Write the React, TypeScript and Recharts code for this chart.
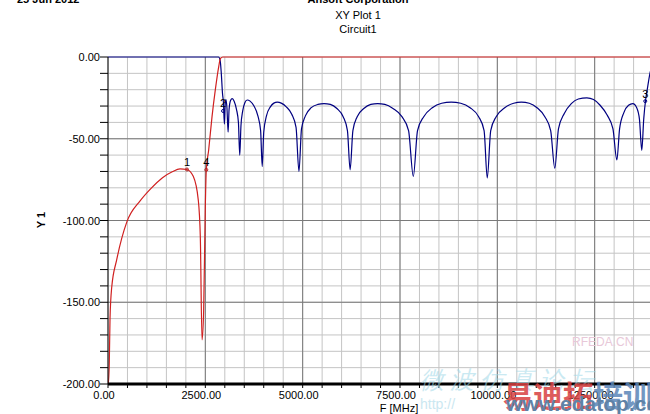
import { LineChart, Line, XAxis, YAxis, CartesianGrid, ReferenceLine, ReferenceDot } from 'recharts';

// S21 (red) trace, F in MHz / dB
const S21_F = [0, 8, 33, 52, 95, 224, 482, 825, 1100, 1400, 1650, 1850, 2028, 2190, 2319, 2371, 2415, 2457, 2500, 2525, 2585, 2672, 2757, 2843, 2886, 2950, 15000];
const S21_DB = [-200, -200, -187, -160, -141, -124, -101, -88, -80.5, -73.8, -70.2, -68.4, -68.8, -73, -87.5, -110, -173, -155, -91, -69, -57, -36.5, -20, -6, -1, 0, 0];

// S11 (blue) trace
const S11_F = [
  0, 2840, 2880, 2910, 2940, 2965, 2990, 3010, 3030, 3055, 3085, 3110, 3150, 3190, 3240, 3300, 3350, 3384, 3415, 3460,
  3515, 3575, 3650, 3750, 3850, 3920, 3961, 4000, 4070, 4170, 4260, 4348, 4450, 4580, 4720, 4830, 4905, 4970, 5070, 5220,
  5390, 5549, 5710, 5880, 6040, 6150, 6219, 6290, 6400, 6570, 6750, 6925, 7110, 7320, 7550, 7720, 7842, 7950, 8110, 8330,
  8570, 8814, 9060, 9300, 9520, 9660, 9741, 9830, 9970, 10190, 10420, 10617, 10820, 11020, 11220, 11370, 11476, 11570, 11720, 11900,
  12080, 12300, 12470, 12640, 12820, 12970, 13070, 13140, 13250, 13370, 13480, 13580, 13650, 13710, 13760, 13810, 13850, 13920, 14000,
];
const S11_DB = [
  0, 0, -2, -10, -22, -28, -41, -29, -26, -31, -46, -32, -26.5, -25.5, -27, -32, -40, -60, -42, -33,
  -28, -26.3, -27, -30, -36, -45, -67, -46, -36, -30.5, -28.2, -27.6, -28.2, -30.5, -35, -43, -70, -44, -36, -31,
  -29, -28.5, -29, -31.5, -36.5, -45, -69, -45, -36.5, -31.5, -29, -28.5, -29, -31.5, -36.5, -45, -73, -45, -36.5, -31,
  -28.3, -27.6, -28.3, -31, -36.5, -45, -74, -45, -36.5, -31, -28.3, -27.6, -28.3, -31, -36.5, -45, -68, -44, -34.5, -28.5,
  -25.7, -25, -26, -29.5, -35.5, -44, -63, -44, -34, -29.5, -28.5, -31, -38, -57, -38, -26, -20, -10, -3,
];

const X_TICKS = [0, 500, 1000, 1500, 2000, 2500, 3000, 3500, 4000, 4500, 5000, 5500, 6000, 6500, 7000, 7500, 8000, 8500, 9000, 9500, 10000, 10500, 11000, 11500, 12000, 12500, 13000, 13500, 14000, 14500, 15000];
const X_MAJOR = [2500, 5000, 7500, 10000, 12500];
const Y_TICKS = [0, -10, -20, -30, -40, -50, -60, -70, -80, -90, -100, -110, -120, -130, -140, -150, -160, -170, -180, -190, -200];
const Y_MAJOR = [-50, -100, -150];

const MARKERS = [
  { id: '1', f: 2028, db: -68.8, color: '#b02020' },
  { id: '4', f: 2525, db: -69, color: '#b02020' },
  { id: '2', f: 2955, db: -33, color: '#000080' },
  { id: '3', f: 13800, db: -27, color: '#000080' },
];

const s21 = S21_F.map((f, i) => ({ f, db: S21_DB[i] }));
const s11 = S11_F.map((f, i) => ({ f, db: S11_DB[i] }));

const FONT = '"Liberation Sans", Arial, sans-serif';

const XTick = (props: any) => {
  const { x, y, payload } = props;
  if (payload.value % 2500 !== 0 || payload.value > 12500) return null;
  return (
    <text x={x - 4} y={y + 9} textAnchor="middle" fontSize={11} fontFamily={FONT} fill="#000">
      {payload.value.toFixed(2)}
    </text>
  );
};

const YTick = (props: any) => {
  const { x, y, payload } = props;
  if (payload.value % 50 !== 0) return null;
  return (
    <text x={x + 2} y={y + 4} textAnchor="end" fontSize={11} fontFamily={FONT} fill="#000">
      {payload.value.toFixed(2)}
    </text>
  );
};

const abs = (s: any) => ({ position: 'absolute', whiteSpace: 'nowrap', fontFamily: FONT, ...s });

export default function App() {
  return (
    <div style={{ position: 'absolute', left: 0, top: 0, width: 650, height: 414, overflow: 'hidden', background: '#fff' }}>
      <div style={abs({ left: 17, top: -7, fontSize: 11, fontWeight: 'bold' })}>25 Jun 2012</div>
      <div style={abs({ left: 358, top: -7, fontSize: 11, fontWeight: 'bold', transform: 'translateX(-50%)' })}>Ansoft Corporation</div>
      <div style={abs({ left: 358, top: 9, fontSize: 11, transform: 'translateX(-50%)' })}>XY Plot 1</div>
      <div style={abs({ left: 358, top: 23, fontSize: 11, transform: 'translateX(-50%)' })}>Circuit1</div>
      <div style={abs({ left: 41, top: 220, fontSize: 11, fontWeight: 'bold', transform: 'translate(-50%,-50%) rotate(-90deg)' })}>Y 1</div>
      <div style={abs({ left: 399, top: 402, fontSize: 11, transform: 'translateX(-50%)' })}>F [MHz]</div>

      <div style={{ position: 'absolute', left: 0, top: 0 }}>
        <LineChart width={700} height={414} margin={{ top: 57, right: 8, bottom: 6, left: 48 }}>
          <CartesianGrid stroke="#c4c4c4" strokeWidth={1} />
          {X_MAJOR.map((v) => (
            <ReferenceLine key={'x' + v} x={v} stroke="#7a7a7a" strokeWidth={1} />
          ))}
          {Y_MAJOR.map((v) => (
            <ReferenceLine key={'y' + v} y={v} stroke="#7a7a7a" strokeWidth={1} />
          ))}
          <XAxis
            type="number"
            dataKey="f"
            domain={[0, 15000]}
            ticks={X_TICKS}
            interval={0}
            height={24}
            tick={<XTick />}
            tickSize={4}
            tickLine={{ stroke: '#000' }}
            axisLine={{ stroke: '#000', strokeWidth: 3 }}
          />
          <YAxis
            type="number"
            domain={[-200, 0]}
            ticks={Y_TICKS}
            interval={0}
            width={60}
            tick={<YTick />}
            tickSize={8}
            tickLine={{ stroke: '#000' }}
            axisLine={{ stroke: '#000' }}
          />
          <Line data={s11} dataKey="db" type="monotone" stroke="#000080" strokeWidth={1.2} dot={false} activeDot={false} isAnimationActive={false} />
          <Line data={s21} dataKey="db" type="monotone" stroke="#d02020" strokeWidth={1.2} dot={false} activeDot={false} isAnimationActive={false} />
          {MARKERS.map((m) => (
            <ReferenceDot
              key={m.id}
              x={m.f}
              y={m.db}
              r={1.5}
              fill="none"
              stroke={m.color}
              label={{ value: m.id, position: 'top', fontSize: 11, fontFamily: FONT, fill: '#000', offset: 2 }}
            />
          ))}
        </LineChart>
      </div>

      {/* watermark overlay from the source image */}
      <div style={abs({ left: 572, top: 335, fontSize: 12, color: '#e8c8d8' })}>RFEDA.CN</div>
      <div style={abs({ left: 420, top: 364, fontSize: 24, color: '#9fd8e8', fontStyle: 'italic', opacity: 0.55, letterSpacing: 6 })}>微波仿真论坛</div>
      <div style={abs({ left: 420, top: 396, fontSize: 14, color: '#a8d8e8', opacity: 0.6 })}>http://</div>
      <div style={abs({ left: 503, top: 372, fontSize: 30, fontWeight: 'bold', fontFamily: '"Noto Sans CJK SC", sans-serif', opacity: 0.85 })}>
        <span style={{ color: '#d84040' }}>易迪拓</span>
        <span style={{ color: '#5b86b8' }}>培训</span>
      </div>
      <div style={abs({ left: 506, top: 392, fontSize: 21, fontWeight: 'bold', color: '#5f82a6' })}>www.edatop.com</div>
    </div>
  );
}
